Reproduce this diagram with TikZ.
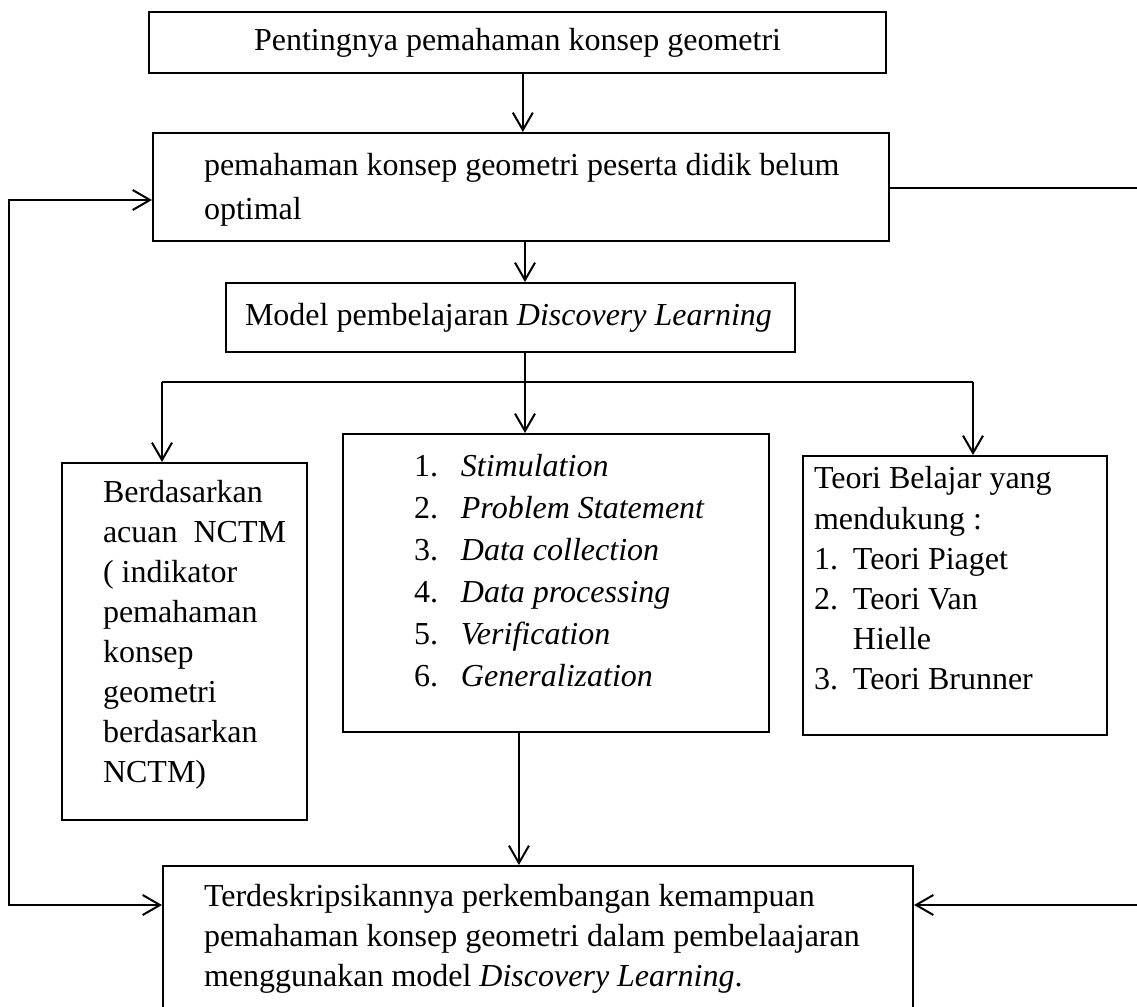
\documentclass[tikz,border=0pt]{standalone}
\usepackage{fontspec}
\setmainfont{Liberation Serif}
\usetikzlibrary{arrows.meta, fit}

\newcommand{\nitem}[3][17.6pt]{\makebox[#1][l]{#2}#3}

\begin{document}
\begin{tikzpicture}[x=0.375pt, y=-0.375pt, line width=0.75pt, >={Straight Barb[length=6.5pt, width=7.5pt]},
		box/.style={draw, inner sep=0pt},
		txt/.style={inner sep=0pt, anchor=north west, align=left}]
		\useasboundingbox (0, 0) rectangle (1137, 1007);
		\clip (0, 0) rectangle (1137, 1007);
		
		\node[box, fit={(149, 12) (886, 73)}] (top) {};
		\node[inner sep=0pt, font=\fontsize{12}{15}\selectfont] (top-txt) at (top.center) {Pentingnya pemahaman konsep geometri};
		
		\node[box, fit={(153, 133) (889, 241)}] (problem) {};
		\node[txt, font=\fontsize{12}{16.5}\selectfont] (problem-txt) at (203, 144) {\strut pemahaman konsep geometri peserta didik belum\\ optimal};
		
		\node[box, fit={(226, 283) (795, 352)}] (model) {};
		\node[inner sep=0pt, anchor=west, font=\fontsize{12}{15}\selectfont] (model-txt) at (244, 318) {Model pembelajaran \textit{Discovery Learning}};
		
		\node[box, fit={(62, 463) (307, 820)}] (nctm) {};
		\node[txt, font=\fontsize{12}{15}\selectfont] (nctm-txt) at (102, 473) {\strut Berdasarkan\\ acuan\ \ NCTM\\ ( indikator\\ pemahaman\\ konsep\\ geometri\\ berdasarkan\\ NCTM)};
		
		\node[box, fit={(343, 434) (769, 732)}] (steps) {};
		\node[txt, font=\fontsize{12}{15.75}\selectfont] (steps-txt) at (413, 446) {\strut\nitem{1.}{\textit{Stimulation}}\\ \nitem{2.}{\textit{Problem Statement}}\\ \nitem{3.}{\textit{Data collection}}\\ \nitem{4.}{\textit{Data processing}}\\ \nitem{5.}{\textit{Verification}}\\ \nitem{6.}{\textit{Generalization}}};
		
		\node[box, fit={(803, 456) (1107, 735)}] (theory) {};
		\node[txt, font=\fontsize{12}{15}\selectfont] (theory-txt) at (813, 460) {\strut Teori Belajar yang\\ mendukung :\\ \nitem[14.6pt]{1.}{Teori Piaget}\\ \nitem[14.6pt]{2.}{Teori Van}\\ \nitem[14.6pt]{}{Hielle}\\ \nitem[14.6pt]{3.}{Teori Brunner}};
		
		\node[box, fit={(163, 866) (913, 1030)}] (result) {};
		\node[txt, font=\fontsize{12}{15}\selectfont] (result-txt) at (203, 877) {\strut Terdeskripsikannya perkembangan kemampuan\\ pemahaman konsep geometri dalam pembelaajaran\\ menggunakan model \textit{Discovery Learning}.};
		
		\coordinate (stem) at (525, 382);
		\coordinate (dropL) at (162, 382);
		\coordinate (dropR) at (973, 382);
		\coordinate (loopT) at (9, 200);
		\coordinate (loopB) at (9, 905);
		\coordinate (sideT) at (1137, 188);
		\coordinate (sideB) at (1137, 905);
		
		\draw[->] ([xshift=2pt]top.south) -- ([xshift=2pt]top.south |- problem.north);
		\draw[->] (problem.south -| stem) -- (model.north -| stem);
		\draw (model.south -| stem) -- (stem);
		\draw (dropL) -- (dropR);
		\draw[->] (dropL) -- (dropL |- nctm.north);
		\draw[->] (stem) -- (stem |- steps.north);
		\draw[->] (dropR) -- (dropR |- theory.north);
		\draw[->] ([xshift=-13.9pt]steps.south) -- ([xshift=-13.9pt]steps.south |- result.north);
		
		\draw[<->] (problem.west |- loopT) -- (loopT) -- (loopB) -- (result.west |- loopB);
		\draw (problem.east |- sideT) -- (sideT);
		\draw[->] (sideB) -- (result.east |- sideB);
	\end{tikzpicture}
\end{document}
